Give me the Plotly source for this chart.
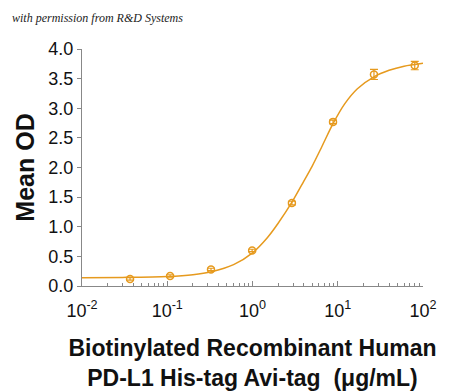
import plotly.graph_objects as go

# Data
conc = [0.0366, 0.108, 0.326, 0.99, 2.9, 8.8, 26.6, 80.0]
mean_od = [0.12, 0.17, 0.28, 0.60, 1.40, 2.77, 3.57, 3.72]
od_err = [0.02, 0.02, 0.02, 0.02, 0.03, 0.03, 0.085, 0.07]

# Fitted curve
curve_x = [0.01, 0.03, 0.1, 0.2, 0.33, 0.6, 1.0, 1.5, 2.0, 3.0, 4.0, 5.0, 6.5, 8.8, 12, 17, 26.6, 40, 60, 100]
curve_y = [0.14, 0.145, 0.16, 0.19, 0.24, 0.36, 0.56, 0.82, 1.06, 1.45, 1.77, 2.02, 2.35, 2.74, 3.07, 3.33, 3.53, 3.64, 3.71, 3.76]

tick_vals = [0.01, 0.1, 1, 10, 100]
tick_text = ["10<sup>-2</sup>", "10<sup>-1</sup>", "10<sup>0</sup>", "10<sup>1</sup>", "10<sup>2</sup>"]
minor_vals = [m * d for d in [0.01, 0.1, 1, 10] for m in range(2, 10)]
y_ticks = [0.0, 0.5, 1.0, 1.5, 2.0, 2.5, 3.0, 3.5, 4.0]

orange = "#E69A1E"

fig = go.Figure()
fig.add_trace(go.Scatter(
    x=curve_x, y=curve_y, mode="lines",
    line=dict(color=orange, width=1.5, shape="spline", smoothing=0.8),
    hoverinfo="skip", showlegend=False,
))
fig.add_trace(go.Scatter(
    x=conc, y=mean_od, mode="markers",
    marker=dict(symbol="circle-open", size=7, color=orange, line=dict(width=1.5, color=orange)),
    error_y=dict(type="data", array=od_err, visible=True, color=orange, thickness=1.2, width=4),
    showlegend=False,
))

axis_font = dict(family="Liberation Sans, Arial, sans-serif", size=18, color="#111")

# The page body adds an 8px offset, so the figure is sized 8px smaller
fig.update_layout(
    width=442, height=384,
    margin=dict(l=74, r=27, t=41, b=106),
    paper_bgcolor="white", plot_bgcolor="white",
    xaxis=dict(
        type="log", range=[-2, 2], automargin=False,
        tickvals=tick_vals, ticktext=tick_text,
        ticks="inside", ticklen=5, tickcolor="#888", tickwidth=1,
        minor=dict(ticks="inside", ticklen=3, tickcolor="#888", showgrid=False, tickvals=minor_vals),
        showline=True, linecolor="#888", linewidth=1,
        showgrid=False, zeroline=False,
        tickfont=axis_font,
        ticklabelstandoff=8,
        title=dict(
            text="<b>Biotinylated Recombinant Human<br>PD-L1 His-tag Avi-tag  (μg/mL)</b>",
            font=dict(family="Liberation Sans, Arial, sans-serif", size=23, color="#111"),
            standoff=20,
        ),
    ),
    yaxis=dict(
        range=[0, 4.0], automargin=False,
        tickvals=y_ticks, tickformat=".1f",
        ticks="outside", ticklen=4, tickcolor="#888",
        showline=True, linecolor="#888", linewidth=1,
        showgrid=False, zeroline=False,
        tickfont=axis_font,
        title=dict(
            text="<b>Mean OD</b>",
            font=dict(family="Liberation Sans, Arial, sans-serif", size=25, color="#111"),
            standoff=6,
        ),
    ),
    annotations=[dict(
        text="with permission from R&amp;D Systems",
        xref="paper", yref="paper", x=-0.211, y=1.131,
        xanchor="left", yanchor="middle", showarrow=False,
        font=dict(family="Liberation Serif, serif", size=12, color="#222", style="italic"),
    )],
)

fig.write_html("out.html")
